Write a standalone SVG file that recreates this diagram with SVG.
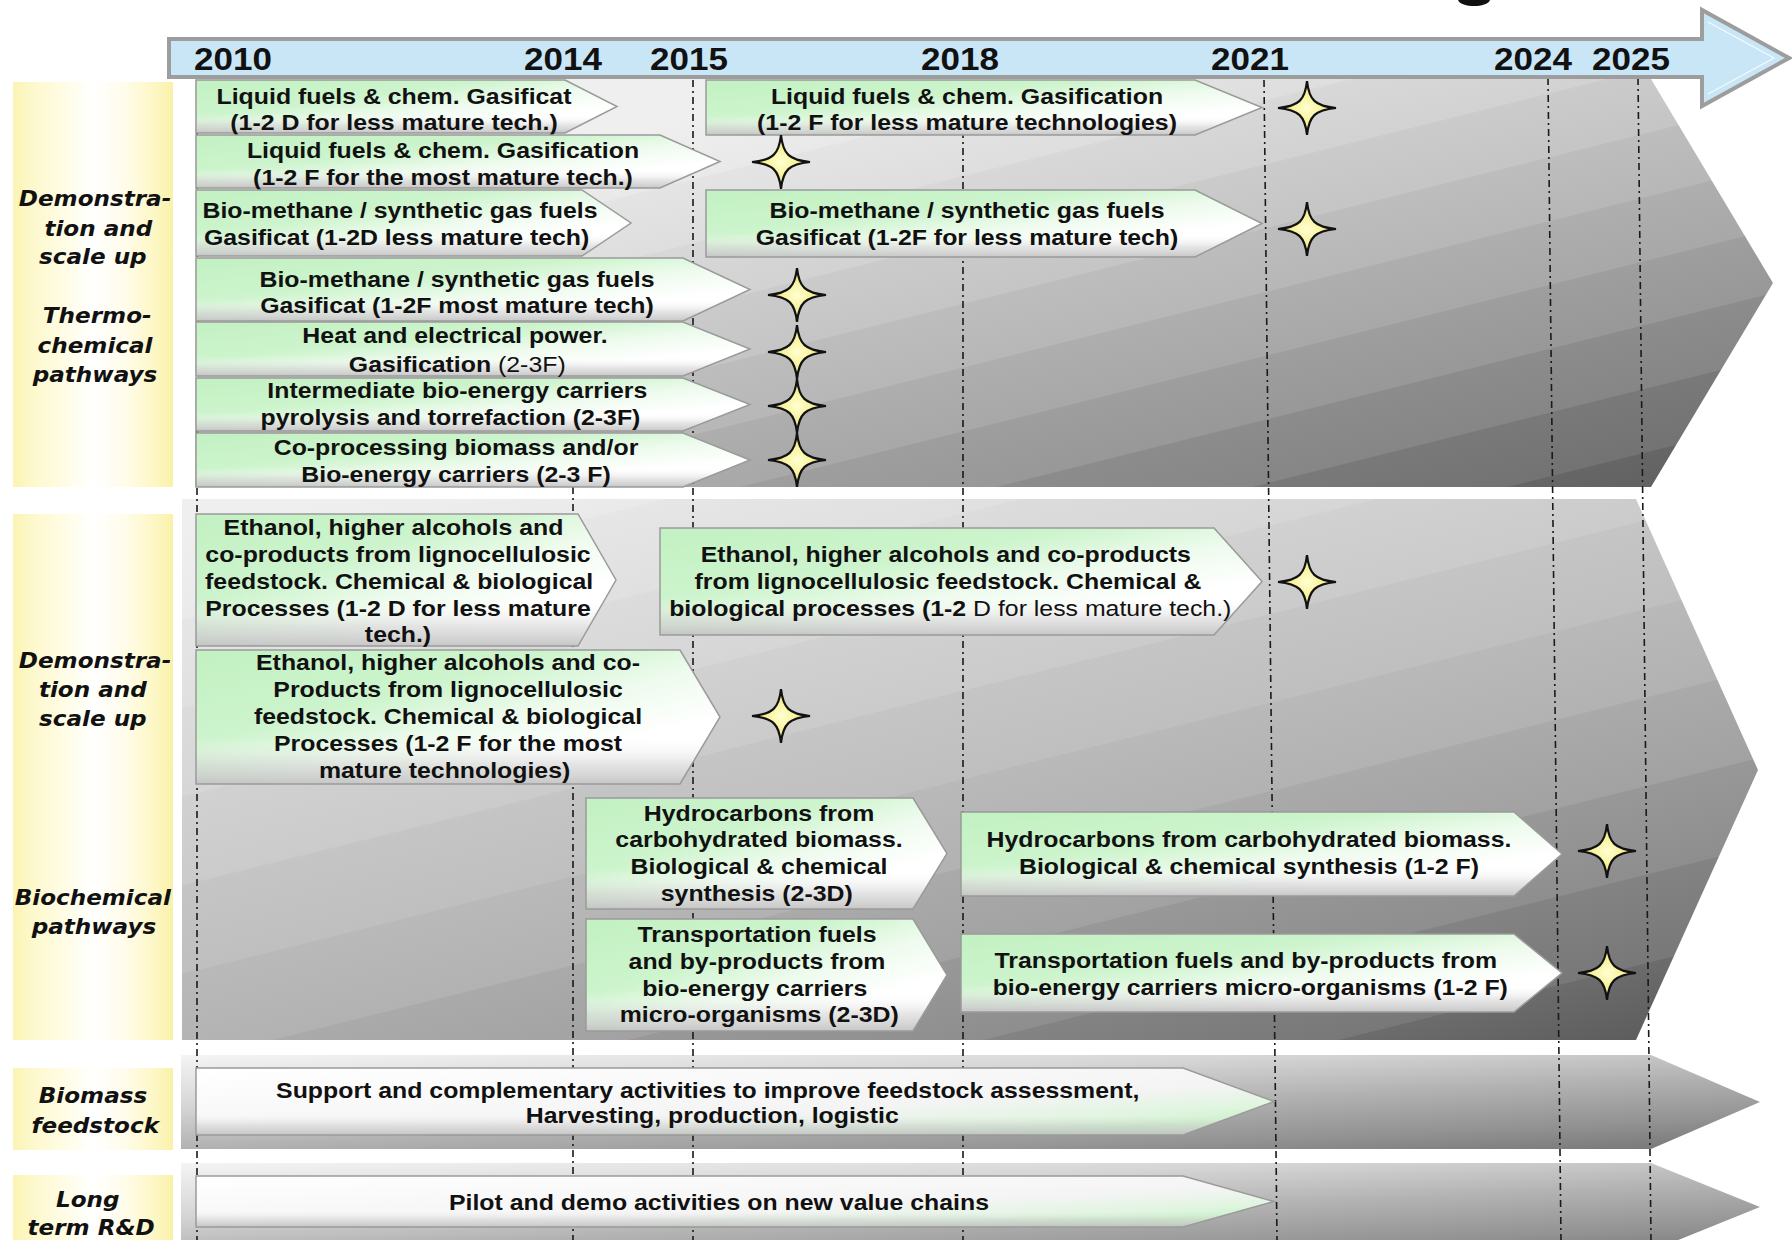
<svg xmlns="http://www.w3.org/2000/svg" width="1792" height="1240" viewBox="0 0 1792 1240">
<defs>
<style>
.box{stroke:#9a9a9a;stroke-width:1.5;fill:url(#shade)}
.lbl{font-family:"Liberation Sans",Arial,sans-serif;font-weight:bold;font-size:22px;text-anchor:middle;fill:#111}
.lbl .n{font-weight:normal}
.side{font-family:"DejaVu Sans",Verdana,sans-serif;font-weight:bold;font-style:italic;font-size:21px;text-anchor:middle;fill:#111}
.yr{font-family:"Liberation Sans",Arial,sans-serif;font-weight:bold;font-size:31px;fill:#111}
.dash{stroke:#1a1a1a;stroke-width:1.6;stroke-dasharray:7 4 2 4;fill:none}
.star{fill:url(#starFill);stroke:#111;stroke-width:2.2}
.band{fill:url(#yellow)}
</style>
<linearGradient id="yellow" x1="0" y1="0" x2="1" y2="0">
<stop offset="0" stop-color="#fbf4b2"/><stop offset="0.12" stop-color="#fdf8cc"/><stop offset="0.35" stop-color="#fffde9"/><stop offset="0.5" stop-color="#ffffff"/><stop offset="0.7" stop-color="#fffcea"/><stop offset="0.88" stop-color="#fdf7c6"/><stop offset="1" stop-color="#faf1a8"/>
</linearGradient>
<linearGradient id="gR1" gradientUnits="userSpaceOnUse" x1="68" y1="272" x2="218" y2="873">
<stop offset="0" stop-color="#efefef"/><stop offset="0.099" stop-color="#e9e9e9"/>
<stop offset="0.1" stop-color="#e4e4e4"/><stop offset="0.199" stop-color="#dedede"/>
<stop offset="0.2" stop-color="#d8d8d8"/><stop offset="0.299" stop-color="#d2d2d2"/>
<stop offset="0.3" stop-color="#cbcbcb"/><stop offset="0.399" stop-color="#c5c5c5"/>
<stop offset="0.4" stop-color="#bdbdbd"/><stop offset="0.499" stop-color="#b7b7b7"/>
<stop offset="0.5" stop-color="#aeaeae"/><stop offset="0.599" stop-color="#a8a8a8"/>
<stop offset="0.6" stop-color="#9e9e9e"/><stop offset="0.699" stop-color="#989898"/>
<stop offset="0.7" stop-color="#8c8c8c"/><stop offset="0.799" stop-color="#868686"/>
<stop offset="0.8" stop-color="#797979"/><stop offset="0.899" stop-color="#737373"/>
<stop offset="0.9" stop-color="#666666"/><stop offset="1" stop-color="#5e5e5e"/>
</linearGradient>
<linearGradient id="gR2" gradientUnits="userSpaceOnUse" x1="136" y1="543" x2="344" y2="1377">
<stop offset="0" stop-color="#efefef"/><stop offset="0.099" stop-color="#eaeaea"/>
<stop offset="0.1" stop-color="#e6e6e6"/><stop offset="0.199" stop-color="#e0e0e0"/>
<stop offset="0.2" stop-color="#dcdcdc"/><stop offset="0.299" stop-color="#d6d6d6"/>
<stop offset="0.3" stop-color="#d1d1d1"/><stop offset="0.399" stop-color="#cbcbcb"/>
<stop offset="0.4" stop-color="#c5c5c5"/><stop offset="0.499" stop-color="#bfbfbf"/>
<stop offset="0.5" stop-color="#b9b9b9"/><stop offset="0.599" stop-color="#b2b2b2"/>
<stop offset="0.6" stop-color="#aaaaaa"/><stop offset="0.699" stop-color="#a2a2a2"/>
<stop offset="0.7" stop-color="#989898"/><stop offset="0.799" stop-color="#8e8e8e"/>
<stop offset="0.8" stop-color="#838383"/><stop offset="0.899" stop-color="#787878"/>
<stop offset="0.9" stop-color="#6c6c6c"/><stop offset="1" stop-color="#5a5a5a"/>
</linearGradient>
<linearGradient id="gR3" gradientUnits="userSpaceOnUse" x1="181" y1="1055" x2="189" y2="1225">
<stop offset="0" stop-color="#f4f4f4"/><stop offset="0.3" stop-color="#d6d6d6"/><stop offset="0.55" stop-color="#b2b2b2"/><stop offset="0.8" stop-color="#929292"/><stop offset="1" stop-color="#737373"/>
</linearGradient>
<linearGradient id="gR4" gradientUnits="userSpaceOnUse" x1="181" y1="1163" x2="189" y2="1333">
<stop offset="0" stop-color="#f4f4f4"/><stop offset="0.3" stop-color="#d6d6d6"/><stop offset="0.55" stop-color="#b2b2b2"/><stop offset="0.8" stop-color="#929292"/><stop offset="1" stop-color="#737373"/>
</linearGradient>
<linearGradient id="gGreen" x1="0" y1="0" x2="1" y2="1">
<stop offset="0" stop-color="#c2f1c2"/><stop offset="0.35" stop-color="#cdf4cd"/><stop offset="0.55" stop-color="#eefbee"/><stop offset="0.75" stop-color="#ffffff"/>
</linearGradient>
<linearGradient id="gF" x1="0" y1="0" x2="1" y2="1">
<stop offset="0" stop-color="#ffffff"/><stop offset="0.6" stop-color="#f4f4f4"/><stop offset="0.78" stop-color="#dff5df"/><stop offset="0.88" stop-color="#c4f2c4"/><stop offset="1" stop-color="#c8f3c8"/>
</linearGradient>
<linearGradient id="shade" x1="0" y1="0" x2="0" y2="1">
<stop offset="0" stop-color="#ffffff" stop-opacity="0"/><stop offset="0.65" stop-color="#ffffff" stop-opacity="0"/><stop offset="0.85" stop-color="#cfcfcf" stop-opacity="0.55"/><stop offset="1" stop-color="#bdbdbd" stop-opacity="0.85"/>
</linearGradient>
<radialGradient id="starFill" cx="0.5" cy="0.5" r="0.5">
<stop offset="0" stop-color="#ffffd2"/><stop offset="0.5" stop-color="#f8f29a"/><stop offset="1" stop-color="#e8df60"/>
</radialGradient>
<path id="star" d="M0,-27 C2,-8 8,-2 29,0 C8,2 2,8 0,27 C-2,8 -8,2 -29,0 C-8,-2 -2,-8 0,-27Z"/>
</defs>

<rect width="1792" height="1240" fill="#ffffff"/>
<path d="M1458,0 C1461,8 1487,8 1490,0 Z" fill="#111"/>

<g id="side-bands">
<rect class="band" x="13" y="82" width="160" height="405"/>
<rect class="band" x="13" y="514" width="160" height="526"/>
<rect class="band" x="13" y="1068" width="160" height="82"/>
<rect class="band" x="13" y="1175" width="160" height="65"/>
</g>

<g id="regions">
<path id="region-thermo" d="M195,79 H1651 L1773,283 L1651,487 H195 Z" fill="url(#gR1)"/>
<path id="region-bio" d="M182,499 H1636 L1758,770 L1636,1040 H182 Z" fill="url(#gR2)"/>
<path id="region-feed" d="M181,1055 H1651 L1760,1102 L1651,1149 H181 Z" fill="url(#gR3)"/>
<path id="region-rnd" d="M181,1163 H1651 L1760,1207 L1651,1251 H181 Z" fill="url(#gR4)"/>
</g>

<g id="connectors">
<path class="dash" d="M197,80 V1240"/>
<path class="dash" d="M573,487 V1240"/>
<path class="dash" d="M693,80 V1240"/>
<path class="dash" d="M963,80 V1240"/>
<path class="dash" d="M1264,80 L1277,1240"/>
<path class="dash" d="M1548,78 L1561,1240"/>
<path class="dash" d="M1638,78 L1651,1240"/>
</g>

<g id="timeline">
<path d="M169,39 H1702 V10 L1789,58 L1702,106 V77 H169 Z" fill="#c9e6f7" stroke="#9d9d9d" stroke-width="4" stroke-linejoin="miter"/>
<path d="M1708,22 L1774,58 L1708,94" fill="none" stroke="#ffffff" stroke-width="1.2" opacity="0.8"/>
<g transform="translate(194 70) scale(1.13 1)"><text class="yr">2010</text></g>
<g transform="translate(524 70) scale(1.13 1)"><text class="yr">2014</text></g>
<g transform="translate(650 70) scale(1.13 1)"><text class="yr">2015</text></g>
<g transform="translate(921 70) scale(1.13 1)"><text class="yr">2018</text></g>
<g transform="translate(1211 70) scale(1.13 1)"><text class="yr">2021</text></g>
<g transform="translate(1494 70) scale(1.13 1)"><text class="yr">2024</text></g>
<g transform="translate(1592 70) scale(1.13 1)"><text class="yr">2025</text></g>
</g>

<g id="side-labels">
<g transform="translate(95 0) scale(1.1 1)"><text class="side"><tspan x="0" y="206">Demonstra-</tspan><tspan x="3" y="236">tion and</tspan><tspan x="-2" y="264">scale up</tspan><tspan x="2" y="323">Thermo-</tspan><tspan x="0" y="353">chemical</tspan><tspan x="0" y="382">pathways</tspan></text></g>
<g transform="translate(95 0) scale(1.1 1)"><text class="side"><tspan x="0" y="668">Demonstra-</tspan><tspan x="-2" y="697">tion and</tspan><tspan x="-2" y="726">scale up</tspan><tspan x="-2" y="905">Biochemical</tspan><tspan x="-1" y="934">pathways</tspan></text></g>
<g transform="translate(93 0) scale(1.1 1)"><text class="side"><tspan x="0" y="1103">Biomass</tspan><tspan x="2" y="1133">feedstock</tspan></text></g>
<g transform="translate(90 0) scale(1.1 1)"><text class="side"><tspan x="-2" y="1207">Long</tspan><tspan x="1" y="1235">term R&amp;D</tspan></text></g>
</g>

<g id="box-a1"><path d="M196,80 H565 L617,106.5 L565,133 H196 Z" fill="url(#gGreen)"/><path class="box" d="M196,80 H565 L617,106.5 L565,133 H196 Z"/>
<g transform="translate(394 0) scale(1.13 1)"><text class="lbl"><tspan x="0" y="104">Liquid fuels &amp; chem. Gasificat</tspan><tspan x="0" y="130">(1-2 D for less mature tech.)</tspan></text></g></g>

<g id="box-a2"><path d="M196,135 H660 L720,161.5 L660,188 H196 Z" fill="url(#gGreen)"/><path class="box" d="M196,135 H660 L720,161.5 L660,188 H196 Z"/>
<g transform="translate(443 0) scale(1.13 1)"><text class="lbl"><tspan x="0" y="158">Liquid fuels &amp; chem. Gasification</tspan><tspan x="0" y="185">(1-2 F for the most mature tech.)</tspan></text></g></g>

<g id="box-a3"><path d="M196,190 H582 L631,223 L582,256 H196 Z" fill="url(#gGreen)"/><path class="box" d="M196,190 H582 L631,223 L582,256 H196 Z"/>
<g transform="translate(400 0) scale(1.13 1)"><text class="lbl"><tspan x="0" y="218">Bio-methane / synthetic gas fuels</tspan><tspan x="-3" y="245">Gasificat (1-2D less mature tech)</tspan></text></g></g>

<g id="box-a4"><path d="M196,258 H683 L750,289.5 L683,321 H196 Z" fill="url(#gGreen)"/><path class="box" d="M196,258 H683 L750,289.5 L683,321 H196 Z"/>
<g transform="translate(457 0) scale(1.13 1)"><text class="lbl"><tspan x="0" y="287">Bio-methane / synthetic gas fuels</tspan><tspan x="0" y="313">Gasificat (1-2F most mature tech)</tspan></text></g></g>

<g id="box-a5"><path d="M196,322 H683 L750,349 L683,376 H196 Z" fill="url(#gGreen)"/><path class="box" d="M196,322 H683 L750,349 L683,376 H196 Z"/>
<g transform="translate(455 0) scale(1.13 1)"><text class="lbl"><tspan x="0" y="343">Heat and electrical power.</tspan><tspan x="2" y="372">Gasification<tspan class="n"> (2-3F)</tspan></tspan></text></g></g>

<g id="box-a6"><path d="M196,378 H683 L750,404.5 L683,431 H196 Z" fill="url(#gGreen)"/><path class="box" d="M196,378 H683 L750,404.5 L683,431 H196 Z"/>
<g transform="translate(455 0) scale(1.13 1)"><text class="lbl"><tspan x="2" y="398">Intermediate bio-energy carriers</tspan><tspan x="-4" y="425">pyrolysis and torrefaction (2-3F)</tspan></text></g></g>

<g id="box-a7"><path d="M196,433 H683 L750,460 L683,487 H196 Z" fill="url(#gGreen)"/><path class="box" d="M196,433 H683 L750,460 L683,487 H196 Z"/>
<g transform="translate(456 0) scale(1.13 1)"><text class="lbl"><tspan x="0" y="455">Co-processing biomass and/or</tspan><tspan x="0" y="482">Bio-energy carriers (2-3 F)</tspan></text></g></g>

<g id="box-b1"><path d="M706,80 H1195 L1262,107.5 L1195,135 H706 Z" fill="url(#gGreen)"/><path class="box" d="M706,80 H1195 L1262,107.5 L1195,135 H706 Z"/>
<g transform="translate(967 0) scale(1.13 1)"><text class="lbl"><tspan x="0" y="104">Liquid fuels &amp; chem. Gasification</tspan><tspan x="0" y="130">(1-2 F for less mature technologies)</tspan></text></g></g>

<g id="box-b2"><path d="M706,190 H1195 L1262,223.5 L1195,257 H706 Z" fill="url(#gGreen)"/><path class="box" d="M706,190 H1195 L1262,223.5 L1195,257 H706 Z"/>
<g transform="translate(967 0) scale(1.13 1)"><text class="lbl"><tspan x="0" y="218">Bio-methane / synthetic gas fuels</tspan><tspan x="0" y="245">Gasificat (1-2F for less mature tech)</tspan></text></g></g>

<g id="box-c1"><path d="M196,514 H578 L616,580 L578,646 H196 Z" fill="url(#gGreen)"/><path class="box" d="M196,514 H578 L616,580 L578,646 H196 Z"/>
<g transform="translate(398 0) scale(1.13 1)"><text class="lbl"><tspan x="-4" y="535">Ethanol, higher alcohols and</tspan><tspan x="0" y="562">co-products from lignocellulosic</tspan><tspan x="1" y="589">feedstock. Chemical &amp; biological</tspan><tspan x="0" y="616">Processes (1-2 D for less mature</tspan><tspan x="0" y="642">tech.)</tspan></text></g></g>

<g id="box-c2"><path d="M196,650 H680 L720,717 L680,784 H196 Z" fill="url(#gGreen)"/><path class="box" d="M196,650 H680 L720,717 L680,784 H196 Z"/>
<g transform="translate(448 0) scale(1.13 1)"><text class="lbl"><tspan x="0" y="670">Ethanol, higher alcohols and co-</tspan><tspan x="0" y="697">Products from lignocellulosic</tspan><tspan x="0" y="724">feedstock. Chemical &amp; biological</tspan><tspan x="0" y="751">Processes (1-2 F for the most</tspan><tspan x="-3" y="778">mature technologies)</tspan></text></g></g>

<g id="box-c3"><path d="M660,528 H1214 L1262,581.5 L1214,635 H660 Z" fill="url(#gGreen)"/><path class="box" d="M660,528 H1214 L1262,581.5 L1214,635 H660 Z"/>
<g transform="translate(948 0) scale(1.13 1)"><text class="lbl"><tspan x="-2" y="562">Ethanol, higher alcohols and co-products</tspan><tspan x="0" y="589">from lignocellulosic feedstock. Chemical &amp;</tspan><tspan x="2" y="616">biological processes (1-2<tspan class="n"> D for less mature tech.)</tspan></tspan></text></g></g>

<g id="box-d1"><path d="M586,798 H913 L947,853.5 L913,909 H586 Z" fill="url(#gGreen)"/><path class="box" d="M586,798 H913 L947,853.5 L913,909 H586 Z"/>
<g transform="translate(759 0) scale(1.13 1)"><text class="lbl"><tspan x="0" y="821">Hydrocarbons from</tspan><tspan x="0" y="847">carbohydrated biomass.</tspan><tspan x="0" y="874">Biological &amp; chemical</tspan><tspan x="-2" y="901">synthesis (2-3D)</tspan></text></g></g>

<g id="box-d2"><path d="M586,919 H913 L947,975 L913,1031 H586 Z" fill="url(#gGreen)"/><path class="box" d="M586,919 H913 L947,975 L913,1031 H586 Z"/>
<g transform="translate(757 0) scale(1.13 1)"><text class="lbl"><tspan x="0" y="942">Transportation fuels</tspan><tspan x="0" y="969">and by-products from</tspan><tspan x="-2" y="996">bio-energy carriers</tspan><tspan x="2" y="1022">micro-organisms (2-3D)</tspan></text></g></g>

<g id="box-e1"><path d="M961,812 H1514 L1562,854 L1514,896 H961 Z" fill="url(#gGreen)"/><path class="box" d="M961,812 H1514 L1562,854 L1514,896 H961 Z"/>
<g transform="translate(1249 0) scale(1.13 1)"><text class="lbl"><tspan x="0" y="847">Hydrocarbons from carbohydrated biomass.</tspan><tspan x="0" y="874">Biological &amp; chemical synthesis (1-2 F)</tspan></text></g></g>

<g id="box-e2"><path d="M961,934 H1514 L1562,973 L1514,1012 H961 Z" fill="url(#gGreen)"/><path class="box" d="M961,934 H1514 L1562,973 L1514,1012 H961 Z"/>
<g transform="translate(1248 0) scale(1.13 1)"><text class="lbl"><tspan x="-2" y="968">Transportation fuels and by-products from</tspan><tspan x="2" y="995">bio-energy carriers micro-organisms (1-2 F)</tspan></text></g></g>

<g id="box-f1"><path d="M196,1068 H1183 L1274,1101.5 L1183,1135 H196 Z" fill="url(#gF)"/><path class="box" d="M196,1068 H1183 L1274,1101.5 L1183,1135 H196 Z"/>
<g transform="translate(710 0) scale(1.13 1)"><text class="lbl"><tspan x="-2" y="1098">Support and complementary activities to improve feedstock assessment,</tspan><tspan x="2" y="1123">Harvesting, production, logistic</tspan></text></g></g>

<g id="box-f2"><path d="M196,1176 H1183 L1274,1201.5 L1183,1227 H196 Z" fill="url(#gF)"/><path class="box" d="M196,1176 H1183 L1274,1201.5 L1183,1227 H196 Z"/>
<g transform="translate(719 0) scale(1.13 1)"><text class="lbl"><tspan x="0" y="1210">Pilot and demo activities on new value chains</tspan></text></g></g>

<g id="milestones">
<use href="#star" class="star" x="1307" y="108"/>
<use href="#star" class="star" x="781" y="162"/>
<use href="#star" class="star" x="1307" y="229"/>
<use href="#star" class="star" x="797" y="295"/>
<use href="#star" class="star" x="797" y="352"/>
<use href="#star" class="star" x="797" y="406"/>
<use href="#star" class="star" x="797" y="460"/>
<use href="#star" class="star" x="1307" y="582"/>
<use href="#star" class="star" x="781" y="716"/>
<use href="#star" class="star" x="1607" y="851"/>
<use href="#star" class="star" x="1607" y="973"/>
</g>
</svg>
